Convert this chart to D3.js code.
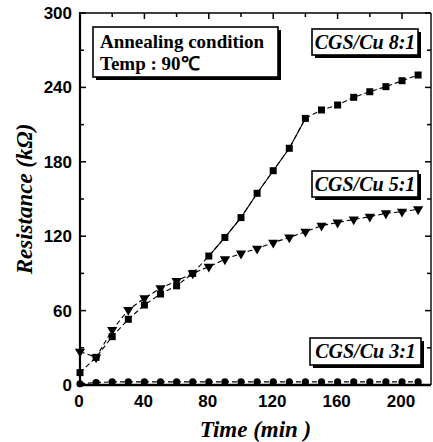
<!DOCTYPE html>
<html><head><meta charset="utf-8">
<script src="https://cdn.jsdelivr.net/npm/d3@7"></script>
<style>body{margin:0;background:#fff}svg{display:block}</style>
</head><body><svg id="c" width="433" height="442"></svg>
<script>
const times = [0,10,20,30,40,50,60,70,80,90,100,110,120,130,140,150,160,170,180,190,200,210];
const cu81 = [10,22.3,39,53,64.5,73.4,80,90,104,119,135,154.6,172.8,190.9,215,221.8,225.8,232,236.5,240.6,245.4,250];
const cu51 = [26.9,22.3,44.4,60.5,70,78,84,90,95.4,101.4,106,110,114.8,119,123.6,128.5,131,133.5,135.7,138.5,139.8,141.7];
const cu31 = [1,2,2.5,2.5,2.5,2.5,2.5,2.5,2.5,2.5,2.5,2.5,2.5,2.5,2.5,2.5,2.5,2.5,2.5,2.5,2.5,2.5];
const xTicks = [0,40,80,120,160,200];
const yTicks = [0,60,120,180,240,300];
const labels = ["CGS/Cu 8:1","CGS/Cu 5:1","CGS/Cu 3:1"];

const svg = d3.select("#c");
const m = {l:80, r:2, t:13, b:57};
const W = 433, H = 442;
const x = d3.scaleLinear().domain([0,218]).range([m.l, W-m.r]);
const y = d3.scaleLinear().domain([0,300]).range([H-m.b, m.t]);
const serif = "'Liberation Serif','Times New Roman',serif";
const sans = "'Liberation Sans',Arial,sans-serif";

// ticks (inward)
const g = svg.append("g");
d3.range(0,219,20).forEach(v=>{
  const len = v%40===0?6:4;
  g.append("line").attr("x1",x(v)).attr("x2",x(v)).attr("y1",y(0)).attr("y2",y(0)-len).attr("stroke","#000").attr("stroke-width",1.5);
  g.append("line").attr("x1",x(v)).attr("x2",x(v)).attr("y1",y(300)).attr("y2",y(300)+len).attr("stroke","#000").attr("stroke-width",1.5);
});
d3.range(0,301,30).forEach(v=>{
  const len = v%60===0?6:4;
  g.append("line").attr("x1",x(0)).attr("x2",x(0)+len).attr("y1",y(v)).attr("y2",y(v)).attr("stroke","#000").attr("stroke-width",1.5);
  g.append("line").attr("x1",x(218)).attr("x2",x(218)-len).attr("y1",y(v)).attr("y2",y(v)).attr("stroke","#000").attr("stroke-width",1.5);
});
// frame
g.append("line").attr("x1",x(0)).attr("x2",x(218)).attr("y1",y(300)).attr("y2",y(300)).attr("stroke","#000").attr("stroke-width",1.6);
g.append("line").attr("x1",x(218)).attr("x2",x(218)).attr("y1",y(300)).attr("y2",y(0)).attr("stroke","#000").attr("stroke-width",1.4);
g.append("line").attr("x1",x(0)).attr("x2",x(0)).attr("y1",y(300)-1).attr("y2",y(0)+1).attr("stroke","#000").attr("stroke-width",2.2);
g.append("line").attr("x1",x(0)-1).attr("x2",x(218)).attr("y1",y(0)).attr("y2",y(0)).attr("stroke","#000").attr("stroke-width",2.5);

// tick labels
svg.append("g").selectAll("text").data(xTicks).join("text")
  .attr("x",d=>x(d)-1).attr("y",407).attr("text-anchor","middle")
  .attr("font-family",sans).attr("font-weight","bold").attr("font-size",17).text(d=>d);
svg.append("g").selectAll("text").data(yTicks).join("text")
  .attr("x",72).attr("y",d=>y(d)+6).attr("text-anchor","end")
  .attr("font-family",sans).attr("font-weight","bold").attr("font-size",17).text(d=>d);

// axis titles
svg.append("text").attr("x",(x(0)+x(218))/2).attr("y",437).attr("text-anchor","middle")
  .attr("font-family",serif).attr("font-weight","bold").attr("font-style","italic").attr("font-size",23).text("Time (min )");
svg.append("text").attr("transform",`translate(32,${(y(0)+y(300))/2}) rotate(-90)`).attr("text-anchor","middle")
  .attr("font-family",serif).attr("font-weight","bold").attr("font-style","italic").attr("font-size",23).text("Resistance (kΩ)");

// series
const line = d3.line().x(d=>x(d[0])).y(d=>y(d[1]));
function series(vals){ return times.map((t,i)=>[t,vals[i]]); }
[cu81,cu51,cu31].forEach(v=>{
  svg.append("path").datum(series(v)).attr("d",line).attr("fill","none")
    .attr("stroke","#000").attr("stroke-width",1.1).attr("stroke-dasharray","5,3");
});
// solid stretch of the 8:1 curve (80-140 min)
svg.append("path").datum(series(cu81).filter(d=>d[0]>=80&&d[0]<=140)).attr("d",line).attr("fill","none")
  .attr("stroke","#000").attr("stroke-width",1.1);
svg.append("g").selectAll("rect").data(series(cu81)).join("rect")
  .attr("x",d=>x(d[0])-3.5).attr("y",d=>y(d[1])-3.5).attr("width",7).attr("height",7).attr("fill","#000");
const tri = d3.symbol().type(d3.symbolTriangle).size(45);
svg.append("g").selectAll("path").data(series(cu51)).join("path")
  .attr("d",tri).attr("transform",d=>`translate(${x(d[0])},${y(d[1])}) rotate(180)`).attr("fill","#000");
svg.append("g").selectAll("circle").data(series(cu31)).join("circle")
  .attr("cx",d=>x(d[0])).attr("cy",d=>y(d[1])).attr("r",3.6).attr("fill","#000");

// shadow boxes
function box(x0,y0,w,h){
  svg.append("rect").attr("x",x0+3).attr("y",y0+3).attr("width",w).attr("height",h).attr("fill","#000");
  svg.append("rect").attr("x",x0).attr("y",y0).attr("width",w).attr("height",h).attr("fill","#fff").attr("stroke","#000").attr("stroke-width",1.6);
}
box(93,27,185,50);
svg.append("text").attr("x",100).attr("y",48).attr("font-family",serif).attr("font-weight","bold").attr("font-size",19).text("Annealing condition");
svg.append("text").attr("x",100).attr("y",70).attr("font-family",serif).attr("font-weight","bold").attr("font-size",19).text("Temp : 90℃");

const lb = [[312,29,106,26],[312,171,106,26],[310,338,111,27]];
lb.forEach((b,i)=>{
  box(b[0],b[1],b[2],b[3]);
  svg.append("text").attr("x",b[0]+b[2]/2).attr("y",b[1]+20).attr("text-anchor","middle")
    .attr("font-family",serif).attr("font-weight","bold").attr("font-style","italic").attr("font-size",20).text(labels[i]);
});
</script></body></html>
